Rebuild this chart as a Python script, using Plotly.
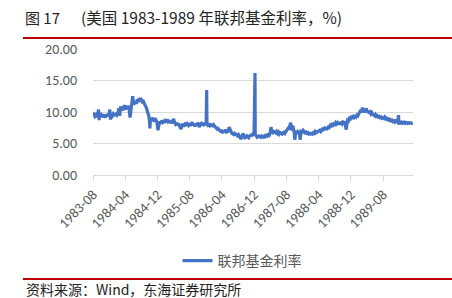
import plotly.graph_objects as go

# ---------------- data ----------------
dates = [
"1983-08-25","1983-09-01","1983-09-08","1983-09-15","1983-09-22","1983-09-29","1983-10-06","1983-10-10","1983-10-14","1983-10-21","1983-10-28",
"1983-11-04","1983-11-11","1983-11-18","1983-11-25","1983-12-02","1983-12-09","1983-12-16","1983-12-23","1983-12-30",
"1984-01-04","1984-01-11","1984-01-18","1984-01-25","1984-02-01","1984-02-08","1984-02-15","1984-02-22","1984-02-29",
"1984-03-07","1984-03-14","1984-03-21","1984-03-28","1984-04-04","1984-04-11","1984-04-18","1984-04-25","1984-05-02","1984-05-09",
"1984-05-16","1984-05-23","1984-05-31","1984-06-06","1984-06-13","1984-06-20","1984-06-27","1984-07-04","1984-07-11","1984-07-18",
"1984-07-25","1984-08-01","1984-08-08","1984-08-15","1984-08-22","1984-08-29","1984-09-05","1984-09-12","1984-09-19","1984-09-26",
"1984-10-03","1984-10-10","1984-10-17","1984-10-24","1984-10-28","1984-11-01","1984-11-08","1984-11-15","1984-11-22","1984-11-29",
"1984-12-06","1984-12-13","1984-12-20","1984-12-28",
"1985-01-03","1985-01-10","1985-01-17","1985-01-24","1985-01-31","1985-02-07","1985-02-14","1985-02-21","1985-02-28",
"1985-03-07","1985-03-14","1985-03-21","1985-03-28","1985-04-04","1985-04-11","1985-04-18","1985-04-25","1985-05-02","1985-05-09",
"1985-05-16","1985-05-23","1985-05-30","1985-06-06","1985-06-13","1985-06-20","1985-06-27","1985-07-04","1985-07-11","1985-07-18",
"1985-07-25","1985-08-01","1985-08-08","1985-08-15","1985-08-22","1985-08-29","1985-09-05","1985-09-12","1985-09-19","1985-09-26",
"1985-10-03","1985-10-10","1985-10-17","1985-10-24","1985-10-31","1985-11-07","1985-11-14","1985-11-21","1985-11-28","1985-12-05",
"1985-12-12","1985-12-19","1985-12-27","1985-12-31",
"1986-01-02","1986-01-09","1986-01-16","1986-01-23","1986-01-30","1986-02-06","1986-02-13","1986-02-20","1986-02-27","1986-03-06",
"1986-03-13","1986-03-20","1986-03-27","1986-04-03","1986-04-10","1986-04-17","1986-04-24","1986-05-01","1986-05-08","1986-05-15",
"1986-05-22","1986-05-29","1986-06-05","1986-06-12","1986-06-19","1986-06-26","1986-07-03","1986-07-10","1986-07-17","1986-07-24",
"1986-07-31","1986-08-07","1986-08-14","1986-08-21","1986-08-28","1986-09-04","1986-09-11","1986-09-18","1986-09-25","1986-10-02",
"1986-10-09","1986-10-16","1986-10-23","1986-10-30","1986-11-06","1986-11-13","1986-11-20","1986-11-27","1986-12-04","1986-12-11",
"1986-12-18","1986-12-24","1986-12-31",
"1987-01-02","1987-01-09","1987-01-16","1987-01-23","1987-01-30","1987-02-06","1987-02-13","1987-02-20","1987-02-27","1987-03-06",
"1987-03-13","1987-03-20","1987-03-27","1987-04-03","1987-04-10","1987-04-17","1987-04-24","1987-05-01","1987-05-08","1987-05-15",
"1987-05-22","1987-05-29","1987-06-05","1987-06-12","1987-06-19","1987-06-26","1987-07-03","1987-07-10","1987-07-17","1987-07-24",
"1987-07-31","1987-08-07","1987-08-14","1987-08-21","1987-08-28","1987-09-04","1987-09-11","1987-09-18","1987-09-25","1987-10-02",
"1987-10-09","1987-10-16","1987-10-23","1987-10-28","1987-11-04","1987-11-11","1987-11-18","1987-11-25","1987-12-02","1987-12-07",
"1987-12-14","1987-12-21","1987-12-30",
"1988-01-06","1988-01-13","1988-01-20","1988-01-27","1988-02-03","1988-02-10","1988-02-17","1988-02-24","1988-03-02","1988-03-09",
"1988-03-16","1988-03-23","1988-03-30","1988-04-06","1988-04-13","1988-04-20","1988-04-27","1988-05-04","1988-05-11","1988-05-18",
"1988-05-25","1988-06-01","1988-06-08","1988-06-15","1988-06-22","1988-06-29","1988-07-06","1988-07-13","1988-07-20","1988-07-27",
"1988-08-03","1988-08-10","1988-08-17","1988-08-24","1988-08-31","1988-09-07","1988-09-14","1988-09-21","1988-09-28","1988-10-05",
"1988-10-12","1988-10-19","1988-10-26","1988-11-02","1988-11-09","1988-11-18","1988-11-23","1988-11-30","1988-12-07","1988-12-14",
"1988-12-21","1988-12-28",
"1989-01-04","1989-01-11","1989-01-18","1989-01-25","1989-02-01","1989-02-08","1989-02-15","1989-02-22","1989-03-01","1989-03-08",
"1989-03-15","1989-03-22","1989-03-29","1989-04-05","1989-04-12","1989-04-19","1989-04-26","1989-05-03","1989-05-10","1989-05-17",
"1989-05-24","1989-05-31","1989-06-07","1989-06-14","1989-06-21","1989-06-28","1989-07-05","1989-07-12","1989-07-19","1989-07-26",
"1989-08-02","1989-08-09","1989-08-16","1989-08-23","1989-08-30","1989-09-06","1989-09-13","1989-09-20","1989-09-27","1989-10-04",
"1989-10-11","1989-10-18","1989-10-25","1989-11-01","1989-11-08","1989-11-15","1989-11-22","1989-11-29","1989-12-06","1989-12-13",
"1989-12-20","1989-12-22","1989-12-29",
"1990-01-05","1990-01-12","1990-01-19","1990-01-26","1990-02-02","1990-02-09","1990-02-16","1990-02-23","1990-03-02","1990-03-09",
"1990-03-16","1990-03-23","1990-03-30","1990-04-06",
]

fed_funds = [
9.4,9.6,9.3,9.5,9.2,9.6,10.4,8.7,9.8,9.3,9.5,
9.2,9.6,9.4,9.1,9.6,9.3,9.7,9.4,10.4,
8.8,9.6,9.4,9.7,9.5,9.6,9.7,9.5,9.8,
10.6,9.4,10.9,10.2,10.8,10.3,11.1,10.4,10.9,10.5,
11.0,10.6,9.1,10.9,11.3,12.5,11.2,11.4,11.7,11.3,
12.0,11.6,12.2,11.9,12.0,11.7,11.9,11.5,11.2,10.9,
10.6,10.0,9.6,8.8,7.4,9.0,8.6,9.1,8.7,8.5,
9.0,8.6,8.4,7.1,
8.3,8.5,8.2,8.6,8.4,8.7,8.3,8.6,8.4,
8.8,8.5,8.7,8.3,8.6,8.2,8.5,8.9,8.4,8.1,
8.3,7.9,8.2,7.8,7.5,7.3,7.9,8.1,7.7,8.0,
8.3,7.8,8.1,7.9,8.2,7.8,8.0,8.4,7.9,8.2,
7.7,8.1,7.8,8.3,8.0,7.6,8.1,8.2,7.9,8.3,
8.0,8.1,8.2,13.5,
8.1,7.9,8.0,7.8,8.0,7.9,7.8,8.0,7.8,7.7,
7.5,7.3,7.4,7.1,7.0,6.9,7.0,6.8,6.9,7.0,
6.9,7.2,6.9,7.0,7.6,7.1,6.9,6.6,6.5,6.4,
6.6,6.5,6.4,6.2,6.4,6.0,5.9,5.7,6.1,6.6,
6.1,5.9,6.0,6.2,6.0,5.9,6.3,6.1,6.5,6.2,
6.6,6.8,16.2,
6.5,6.2,6.0,6.1,6.2,6.1,6.0,6.2,6.1,6.0,
6.2,6.1,6.3,6.2,6.4,6.3,6.6,7.6,6.8,6.7,
6.9,6.8,6.7,6.9,6.6,6.8,6.5,6.7,6.6,6.5,
6.7,6.8,6.6,6.9,7.0,7.3,7.5,7.4,8.3,7.6,
7.4,7.5,6.8,5.6,6.8,6.7,6.9,6.8,6.7,5.6,
6.9,6.8,7.1,
6.9,6.7,6.8,6.6,6.7,6.5,6.6,6.5,6.6,6.5,
6.7,6.6,6.9,6.7,6.8,6.9,7.0,7.1,6.9,7.2,
7.3,7.2,7.4,7.2,7.6,7.4,7.6,7.5,7.8,7.6,
8.0,7.9,8.1,8.0,8.3,8.1,8.3,8.0,8.4,8.2,
8.3,8.1,8.4,8.3,8.5,7.2,8.4,8.7,8.6,9.0,
8.9,9.2,
9.1,9.3,9.1,9.3,9.2,9.5,9.4,9.7,9.9,10.3,
9.9,10.7,10.1,10.4,9.9,10.6,10.0,10.2,9.8,10.0,
9.7,9.9,9.6,9.5,9.4,9.6,9.3,9.4,9.2,9.3,
9.1,9.2,9.0,9.1,9.0,9.2,8.9,9.0,8.8,8.9,
8.7,8.8,8.6,8.7,8.5,8.6,8.4,8.6,8.5,8.4,
9.5,8.0,8.5,
8.3,8.4,8.2,8.3,8.4,8.2,8.3,8.2,8.3,8.2,
8.3,8.3,8.2,8.3,
]

series_name = "联邦基金利率"
title_num = "图 17"
title_text = "(美国 1983-1989 年联邦基金利率，%)"
source_text = "资料来源：Wind，东海证券研究所"
x_start, x_end = "1983-08-25", "1990-04-08"
y_ticks = [0, 5, 10, 15, 20]

# ---------------- layout helpers ----------------
W, H = 452, 298
PL, PR, PT, PB = 93, 413, 49, 175   # plot area in px


def px_x(x):
    return (x - PL) / (PR - PL)


def px_y(y):
    return (PB - y) / (PB - PT)


CJK = "Noto Sans CJK SC, Noto Sans, sans-serif"
NUM = "Carlito, Calibri, Liberation Sans, sans-serif"
GREY = "#595959"

fig = go.Figure()
fig.add_trace(go.Scatter(
    x=dates, y=fed_funds, mode="lines", name=series_name,
    line=dict(color="#4472C4", width=3.2),
))

fig.update_layout(
    width=W, height=H,
    margin=dict(l=PL, r=W - PR, t=PT, b=H - PB, pad=0),
    paper_bgcolor="white", plot_bgcolor="white",
    font=dict(family=CJK, color=GREY),
    showlegend=True,
    legend=dict(
        orientation="h", x=px_x(242), xanchor="center",
        y=px_y(261), yanchor="middle",
        font=dict(size=14, color=GREY, family=CJK),
        bgcolor="rgba(0,0,0,0)",
    ),
    xaxis=dict(
        type="date", range=[x_start, x_end],
        tick0=x_start, dtick="M8", tickformat="%Y-%m",
        tickangle=-45, ticks="outside", ticklen=5, tickcolor="#d9d9d9",
        showline=True, linecolor="#d9d9d9", linewidth=1,
        showgrid=False, zeroline=False,
        tickfont=dict(size=14, color=GREY, family=NUM),
    ),
    yaxis=dict(
        range=[0, 20], tickvals=y_ticks, tickformat=".2f",
        showgrid=True, gridcolor="#d9d9d9", gridwidth=1,
        zeroline=False, showline=False, ticks="",
        ticklabelstandoff=15,
        tickfont=dict(size=14, color=GREY, family=NUM),
    ),
)

# title and source texts
fig.add_annotation(
    text=title_num, xref="paper", yref="paper",
    x=px_x(23), y=px_y(17), xanchor="left", yanchor="middle",
    showarrow=False, font=dict(size=15, color="#222222", family=CJK),
)
fig.add_annotation(
    text=title_text, xref="paper", yref="paper",
    x=px_x(79), y=px_y(17), xanchor="left", yanchor="middle",
    showarrow=False, font=dict(size=15.5, color="#222222", family=CJK),
)
fig.add_annotation(
    text=source_text, xref="paper", yref="paper",
    x=px_x(24), y=px_y(289), xanchor="left", yanchor="middle",
    showarrow=False, font=dict(size=14, color="#222222", family=CJK),
)
# red rules
for yy in (38, 279):
    fig.add_shape(
        type="line", xref="paper", yref="paper",
        x0=px_x(23), x1=px_x(452), y0=px_y(yy), y1=px_y(yy),
        line=dict(color="#C00000", width=2),
    )

fig.write_html("out.html")
